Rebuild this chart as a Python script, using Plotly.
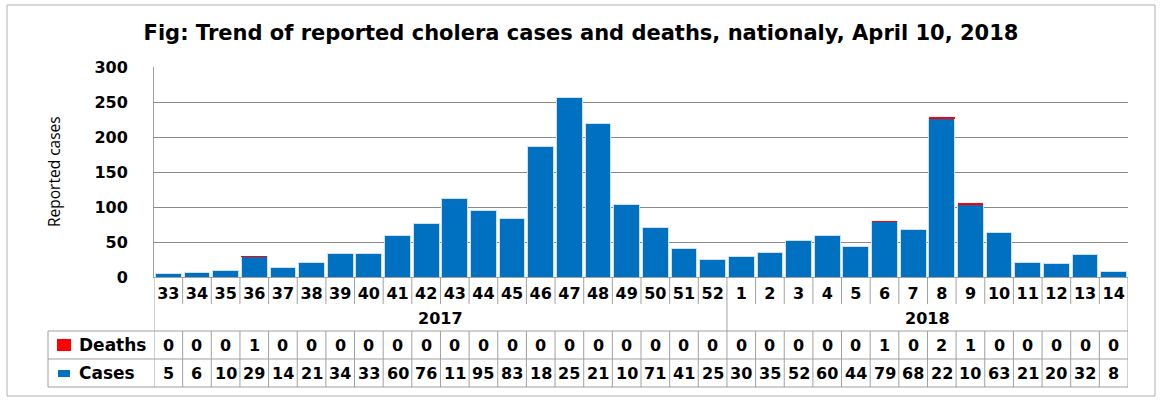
import plotly.graph_objects as go

# weekly data (epi weeks 33-52 of 2017, 1-14 of 2018)
weeks = [str(w) for w in range(33, 53)] + [str(w) for w in range(1, 15)]
years = ["2017", "2018"]
weeks_per_year = [20, 14]
cases = [5, 6, 10, 29, 14, 21, 34, 33, 60, 76, 112, 95, 83, 187, 257, 219, 103, 71, 41, 25,
         30, 35, 52, 60, 44, 79, 68, 226, 104, 63, 21, 20, 32, 8]
deaths = [0, 0, 0, 1, 0, 0, 0, 0, 0, 0, 0, 0, 0, 0, 0, 0, 0, 0, 0, 0,
          0, 0, 0, 0, 0, 1, 0, 2, 1, 0, 0, 0, 0, 0]
y_ticks = [0, 50, 100, 150, 200, 250, 300]

W, H = 1162, 402
BLUE = "#0070C0"
RED = "#FF0000"
GRID = "#8a8a8a"
LINE = "#a0a0a0"
TFONT = "DejaVu Sans"


def px(p):
    return p / W


def py(p):
    return 1 - p / H


fig = go.Figure()
fig.add_trace(go.Bar(x=weeks, y=cases, name="Cases", marker_color=BLUE,
                     marker_line=dict(color="#cfe0f3", width=1)))
fig.add_trace(go.Bar(x=weeks, y=deaths, name="Deaths", marker_color=RED,
                     marker_line=dict(width=0)))

shapes = []
annotations = []

# outer frame
shapes.append(dict(type="rect", xref="paper", yref="paper", x0=px(7), x1=px(1155),
                   y0=py(396), y1=py(5), line=dict(color="#b0b0b0", width=1)))

n = len(weeks)
# week separators under the axis
for i in range(n + 1):
    x = i - 0.5
    if i == 0 or i == n:
        y0 = 387
    elif i == weeks_per_year[0]:
        y0 = 387
    else:
        y0 = 304
    shapes.append(dict(type="line", xref="x", yref="paper", x0=x, x1=x,
                       y0=py(277), y1=py(y0), line=dict(color=LINE, width=1)))
    if i not in (0, n, weeks_per_year[0]):
        shapes.append(dict(type="line", xref="x", yref="paper", x0=x, x1=x,
                           y0=py(331), y1=py(387), line=dict(color=LINE, width=1)))

# horizontal table rules
for yy in [331, 359, 387]:
    shapes.append(dict(type="line", xref="paper", yref="paper", x0=px(48), x1=px(1128),
                       y0=py(yy), y1=py(yy), line=dict(color=LINE, width=1)))
shapes.append(dict(type="line", xref="paper", yref="paper", x0=px(48), x1=px(48),
                   y0=py(331), y1=py(387), line=dict(color=LINE, width=1)))

# legend keys in table
shapes.append(dict(type="rect", xref="paper", yref="paper", x0=px(57), x1=px(71),
                   y0=py(351), y1=py(339), fillcolor=RED, line=dict(width=0)))
shapes.append(dict(type="rect", xref="paper", yref="paper", x0=px(58), x1=px(70),
                   y0=py(377), y1=py(370), fillcolor=BLUE, line=dict(width=0)))

cell_font = dict(family=TFONT, size=16, color="black")
key_font = dict(family=TFONT, size=17, color="black")
annotations.append(dict(text="<b>Deaths</b>", xref="paper", yref="paper", x=px(77), y=py(345),
                        xanchor="left", yanchor="middle", showarrow=False, font=key_font))
annotations.append(dict(text="<b>Cases</b>", xref="paper", yref="paper", x=px(77), y=py(373),
                        xanchor="left", yanchor="middle", showarrow=False, font=key_font))

# year labels
start = 0
for yr, cnt in zip(years, weeks_per_year):
    annotations.append(dict(text="<b>%s</b>" % yr, xref="x", yref="paper",
                            x=start + (cnt - 1) / 2, y=py(318), yanchor="middle",
                            showarrow=False, font=cell_font))
    start += cnt

# table values (cells are too narrow for 3 digits)
for i in range(n):
    annotations.append(dict(text="<b>%d</b>" % deaths[i], xref="x", yref="paper", x=i, y=py(345),
                            yanchor="middle", showarrow=False, font=cell_font))
    annotations.append(dict(text="<b>%s</b>" % str(cases[i])[:2], xref="x", yref="paper", x=i,
                            y=py(373), yanchor="middle", showarrow=False, font=cell_font))

# y axis title
annotations.append(dict(text="Reported cases", xref="paper", yref="paper", x=px(54), y=py(172),
                        textangle=-90, showarrow=False, xanchor="center", yanchor="middle",
                        font=dict(family="Open Sans", size=15.5, color="black")))

fig.update_layout(
    width=W, height=H,
    margin=dict(l=0, r=0, t=0, b=0, pad=0, autoexpand=False),
    paper_bgcolor="white", plot_bgcolor="white",
    barmode="stack", bargap=0.1,
    showlegend=False,
    title=dict(text="<b>Fig: Trend of reported cholera cases and deaths, nationaly, April 10, 2018</b>",
               x=0.5, xanchor="center", y=py(33), yanchor="middle",
               font=dict(family="DejaVu Sans", size=21, color="black")),
    xaxis=dict(domain=[px(154), px(1128)], range=[-0.5, n - 0.5], type="category",
               automargin=False,
               showline=True, linecolor=LINE, linewidth=1, showgrid=False,
               tickfont=dict(family=TFONT, size=16, color="black"), ticks="",
               ticklabelstandoff=2),
    yaxis=dict(domain=[py(277), py(67)], range=[0, 300], tickvals=y_ticks,
               automargin=False,
               showline=True, linecolor=LINE, linewidth=1,
               showgrid=True, gridcolor=GRID, gridwidth=1, zeroline=False,
               ticks="", ticklabelstandoff=22,
               tickfont=dict(family=TFONT, size=16, color="black")),
    shapes=shapes,
    annotations=annotations,
)
fig.update_xaxes(tickvals=weeks, ticktext=["<b>%s</b>" % w for w in weeks])
fig.update_yaxes(ticktext=["<b>%d</b>" % v for v in y_ticks])

# page has a default 8px body margin; drop it so the figure fills the window
fig.write_html("out.html", config={"displayModeBar": False},
               post_script="document.body.style.margin='0';")
